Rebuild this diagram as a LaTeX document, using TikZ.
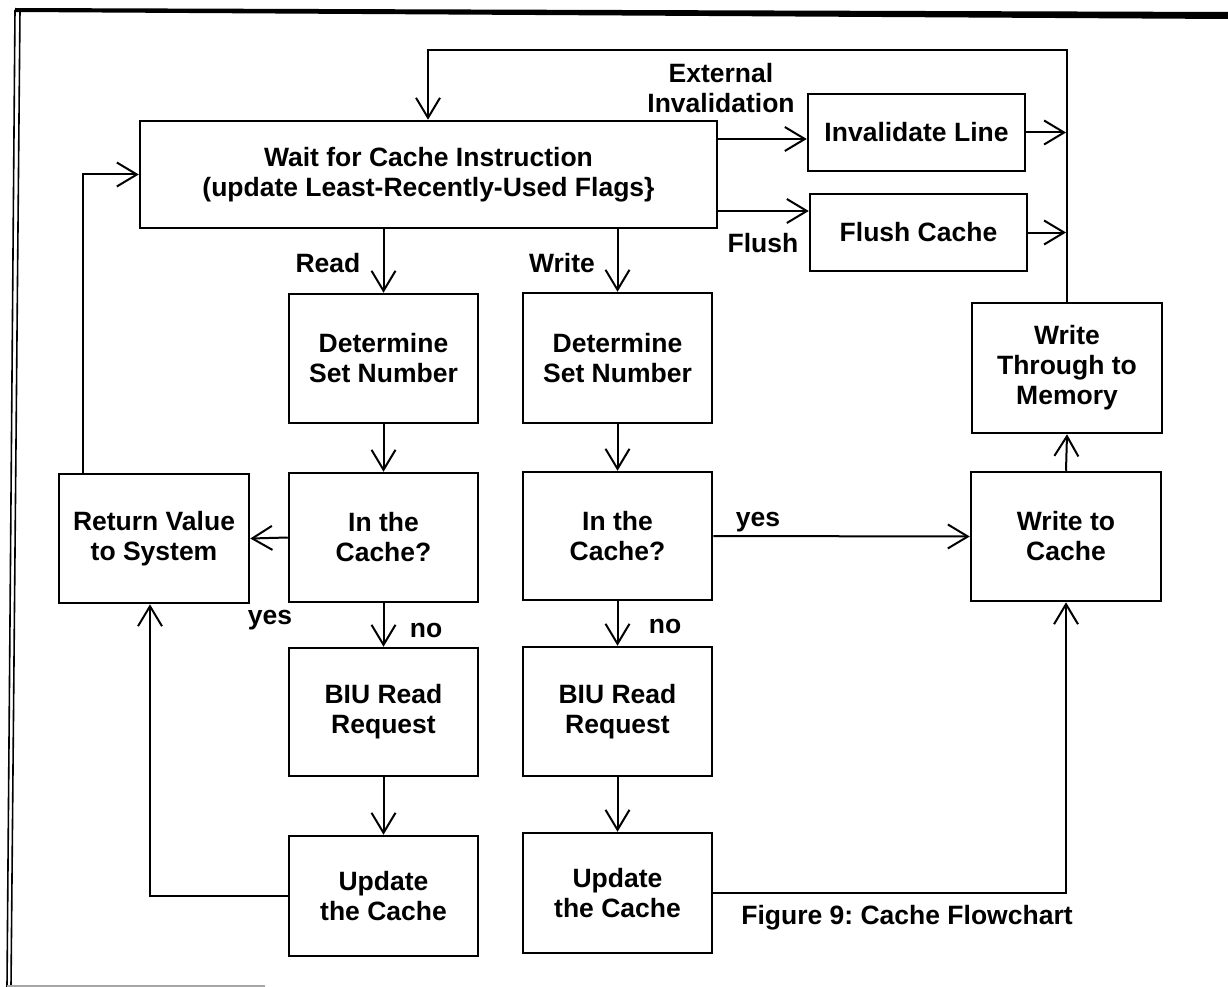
\documentclass[tikz,border=0pt]{standalone}
\usepackage{fontspec}
\setmainfont{Liberation Sans}
\usetikzlibrary{arrows.meta}
\frenchspacing
\begin{document}
\begin{tikzpicture}[x=1pt,y=-1pt,
  txt/.style={font=\bfseries\fontsize{26.5}{30}\selectfont},
  box/.style={draw, line width=2.5pt, align=center, inner sep=0pt, txt},
  lbl/.style={inner sep=0pt, align=center, txt},
  conn/.style={line width=2pt, -{Straight Barb[length=20pt,width=24pt]}},
  wire/.style={line width=2pt}]
\useasboundingbox (0,0) rectangle (1228,987);
% frame
\fill (15,8) -- (1228,12) -- (1228,19) -- (15,12) -- cycle;
\draw[line width=1.6pt] (15,10) -- (7,987);
\draw[line width=1.6pt] (20,10) -- (11,987);
\draw[line width=1.5pt, black!35] (7,986) -- (265,986);
% boxes
\node[box, minimum width=577pt, minimum height=107pt] (wait) at (428.5,174.5)
  {Wait for Cache Instruction\\(update Least-Recently-Used Flags\}};
\node[box, minimum width=217pt, minimum height=77pt] (inval) at (916.5,132.5) {Invalidate Line};
\node[box, minimum width=217pt, minimum height=77pt] (flush) at (918.5,232.5) {Flush Cache};
\node[box, minimum width=189pt, minimum height=129pt] (rdsn) at (383.5,358.5) {Determine\\Set Number};
\node[box, minimum width=189pt, minimum height=130pt] (wdsn) at (617.5,358) {Determine\\Set Number};
\node[box, minimum width=189pt, minimum height=129pt] (ritc) at (383.5,537.5) {In the\\Cache?};
\node[box, minimum width=189pt, minimum height=128pt] (witc) at (617.5,536) {In the\\Cache?};
\node[box, minimum width=189pt, minimum height=128pt] (rbiu) at (383.5,712) {BIU Read\\Request};
\node[box, minimum width=189pt, minimum height=129pt] (wbiu) at (617.5,711.5) {BIU Read\\Request};
\node[box, minimum width=189pt, minimum height=120pt] (rupd) at (383.5,896) {Update\\the Cache};
\node[box, minimum width=189pt, minimum height=120pt] (wupd) at (617.5,893) {Update\\the Cache};
\node[box, minimum width=190pt, minimum height=129pt] (rv) at (154,538.5) {Return Value\\to System};
\node[box, minimum width=190pt, minimum height=130pt] (wt) at (1067,368) {Write\\Through to\\Memory};
\node[box, minimum width=190pt, minimum height=129pt] (wtc) at (1066,536.5) {Write to\\Cache};
% labels
\node[lbl] (lext) at (721,88) {External\\Invalidation};
\node[lbl] (lflush) at (763,243) {Flush};
\node[lbl] (lread) at (328,263) {Read};
\node[lbl] (lwrite) at (562,263) {Write};
\node[lbl] (lyes1) at (270,620) {yes};
\node[lbl] (lno1) at (426,630) {no};
\node[lbl] (lno2) at (665,626) {no};
\node[lbl] (lyes2) at (758,522) {yes};
\node[lbl] (cap) at (907,918) {Figure 9: Cache Flowchart};
% helper coordinates
\coordinate (loopx) at (428,50);
\coordinate (rvx) at (83,0);
\coordinate (rux) at (150,0);
\coordinate (rx) at (1066,0);
\coordinate (yinv) at (0,139);
\coordinate (yfl) at (0,211);
% connectors
\draw[conn] (wt.north) |- (loopx) -- (loopx |- wait.north);
\draw[conn] (rvx |- rv.north) |- (wait.west);
\draw[conn] (wait.east |- yinv) -- (inval.west |- yinv);
\draw[conn] (wait.east |- yfl) -- (flush.west |- yfl);
\draw[conn] (inval.east) -- (rx |- inval.east);
\draw[conn] (flush.east) -- (rx |- flush.east);
\draw[conn] (rdsn.north |- wait.south) -- (rdsn.north);
\draw[conn] (wdsn.north |- wait.south) -- (wdsn.north);
\draw[conn] (rdsn.south) -- (ritc.north);
\draw[conn] (wdsn.south) -- (witc.north);
\draw[conn] (ritc.south) -- (rbiu.north);
\draw[conn] (witc.south) -- (wbiu.north);
\draw[conn] (rbiu.south) -- (rupd.north);
\draw[conn] (wbiu.south) -- (wupd.north);
\draw[conn] (ritc.west) -- (rv.east);
\draw[conn] (rupd.west) -| (rux |- rv.south);
\draw[conn] (witc.east) -- (wtc.west);
\draw[conn] (wupd.east) -| (wtc.south);
\draw[conn] (wtc.north) -- (wt.south);
\end{tikzpicture}
\end{document}
